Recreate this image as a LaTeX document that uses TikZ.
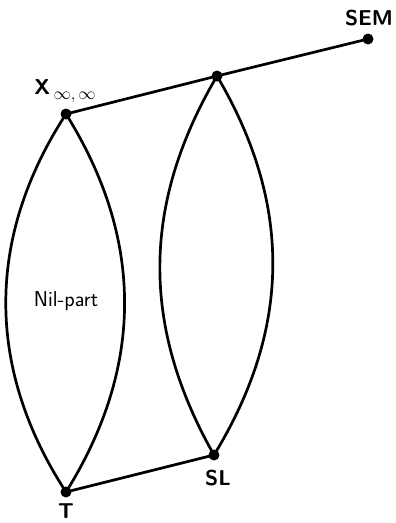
\documentclass[tikz,border=0pt]{standalone}
\begin{document}
\begin{tikzpicture}[x=1pt,y=-1pt,
  dot/.style={circle,fill=black,inner sep=0pt,minimum size=11pt},
  lbl/.style={font=\fontsize{21.5}{24}\selectfont\sffamily\bfseries,inner sep=0pt},
  edge/.style={line width=2.7pt}]
\useasboundingbox (0,0) rectangle (396,523);
\node[dot] (X) at (66,114) {};
\node[dot] (M) at (217,76) {};
\node[dot] (S) at (368,39) {};
\node[dot] (SLd) at (214,455) {};
\node[dot] (Td) at (66,492) {};
\draw[edge] (X.center) -- (M.center) -- (S.center);
\draw[edge] (Td.center) -- (SLd.center);
\draw[edge] (X.center) to[bend right=33] (Td.center);
\draw[edge] (X.center) to[bend left=32] (Td.center);
\draw[edge] (M.center) to[bend right=30] (SLd.center);
\draw[edge] (M.center) to[bend left=31] (SLd.center);
\node[lbl] (Xl) at (65,91) {X\,\raisebox{-5pt}{\fontsize{16}{18}\selectfont$\infty,\infty$}};
\node[lbl] (Sl) at (369,18) {SEM};
\node[lbl] (SLl) at (218,478) {SL};
\node[lbl] (Tl) at (66,511.5) {T};
\node[lbl,font=\fontsize{21.5}{24}\selectfont\sffamily] (nil) at (66,301) {Nil-part};
\end{tikzpicture}
\end{document}
